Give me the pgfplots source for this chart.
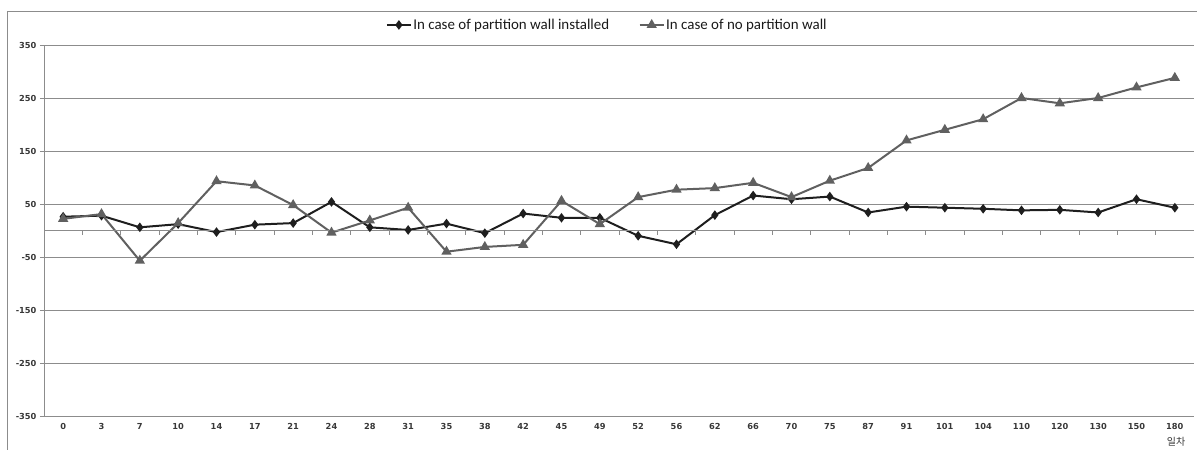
\documentclass[border=0pt]{standalone}
\usepackage{pgfplots}
\pgfplotsset{compat=1.18}
\usepackage{pgfplotstable}
\usepackage{fontspec}
\setmainfont{Carlito}
\newfontfamily\tickfont{DejaVu Sans}
\newfontfamily\krfont{Noto Sans CJK KR}
\definecolor{wallon}{HTML}{1E1E1E}
\definecolor{walloff}{HTML}{606060}
\definecolor{gridgray}{HTML}{8C8C8C}
\definecolor{labelgray}{HTML}{383838}

% day index, with / without partition wall
\pgfplotstableread{
idx wall nowall
0  26  22
1  28  31
2  6   -57
3  12  14
4  -3  93
5  11  85
6  14  48
7  54  -4
8  6   19
9  1   43
10 13  -40
11 -5  -31
12 32  -27
13 24  56
14 24  12
15 -10 63
16 -26 77
17 29  80
18 66  90
19 59  63
20 64  94
21 34  118
22 45  170
23 43  190
24 41  210
25 38  250
26 39  240
27 34  250
28 59  270
29 43  288
}\datatable

\begin{document}
\begin{tikzpicture}
\path[use as bounding box] (0,0) rectangle (1197bp,-450bp);
\draw[gridgray, line width=0.8bp] (7.5bp,-450bp) -- (7.5bp,-11bp) -- (1197bp,-11bp);
\begin{axis}[
  at={(44bp,-416bp)}, anchor=south west,
  scale only axis, width=1150bp, height=371bp,
  xmin=-0.5, xmax=29.5, ymin=-350, ymax=350,
  axis lines*=left,
  axis line style={gridgray, line width=0.8bp},
  xtick={0,...,29},
  xticklabels={0,3,7,10,14,17,21,24,28,31,35,38,42,45,49,52,56,62,66,70,75,87,91,101,104,110,120,130,150,180},
  xtick style={draw=none},
  ytick={-350,-250,-150,-50,50,150,250,350},
  yticklabels={-350,-250,-150,-50,50,150,250,350},
  ytick style={gridgray, line width=0.8bp},
  tick align=outside,
  major tick length=4bp,
  ymajorgrids,
  major grid style={gridgray, line width=0.8bp},
  tick label style={font=\tickfont\bfseries\fontsize{8.3}{10}\selectfont, text=labelgray},
  legend columns=2,
  legend style={at={(0.4896,1.054)}, anchor=center, draw=none, fill=none,
    font=\fontsize{15}{17}\selectfont, text=black!90,
    nodes={inner xsep=1.5bp},
    /tikz/every even column/.append style={column sep=28bp}},
  legend image code/.code={\draw[#1, mark repeat=2, mark phase=2]
    plot coordinates {(0bp,0bp) (12bp,0bp) (24bp,0bp)};},
]
\addplot[wallon, line width=2bp, mark=diamond*, mark size=3.2bp, mark options={solid}]
  table[x=idx, y=wall] {\datatable};
\addlegendentry{In case of partition wall installed}
\addplot[walloff, line width=2bp, mark=triangle*, mark size=4bp, mark options={solid}]
  table[x=idx, y=nowall] {\datatable};
\addlegendentry{In case of no partition wall}
% zero line with category separators
\draw[gridgray, line width=0.8bp] (axis cs:-0.5,0) -- (axis cs:29.5,0);
\pgfplotsinvokeforeach{0.5,1.5,2.5,3.5,4.5,5.5,6.5,7.5,8.5,9.5,10.5,11.5,12.5,13.5,14.5,15.5,16.5,17.5,18.5,19.5,20.5,21.5,22.5,23.5,24.5,25.5,26.5,27.5,28.5,29.5}{
  \draw[gridgray, line width=0.8bp] (axis cs:#1,0) -- ([yshift=-4bp]axis cs:#1,0);
}
\end{axis}
\node[font=\krfont\fontsize{10}{11}\selectfont, text=labelgray] at (1176bp,-442bp) {일차};
\end{tikzpicture}
\end{document}
